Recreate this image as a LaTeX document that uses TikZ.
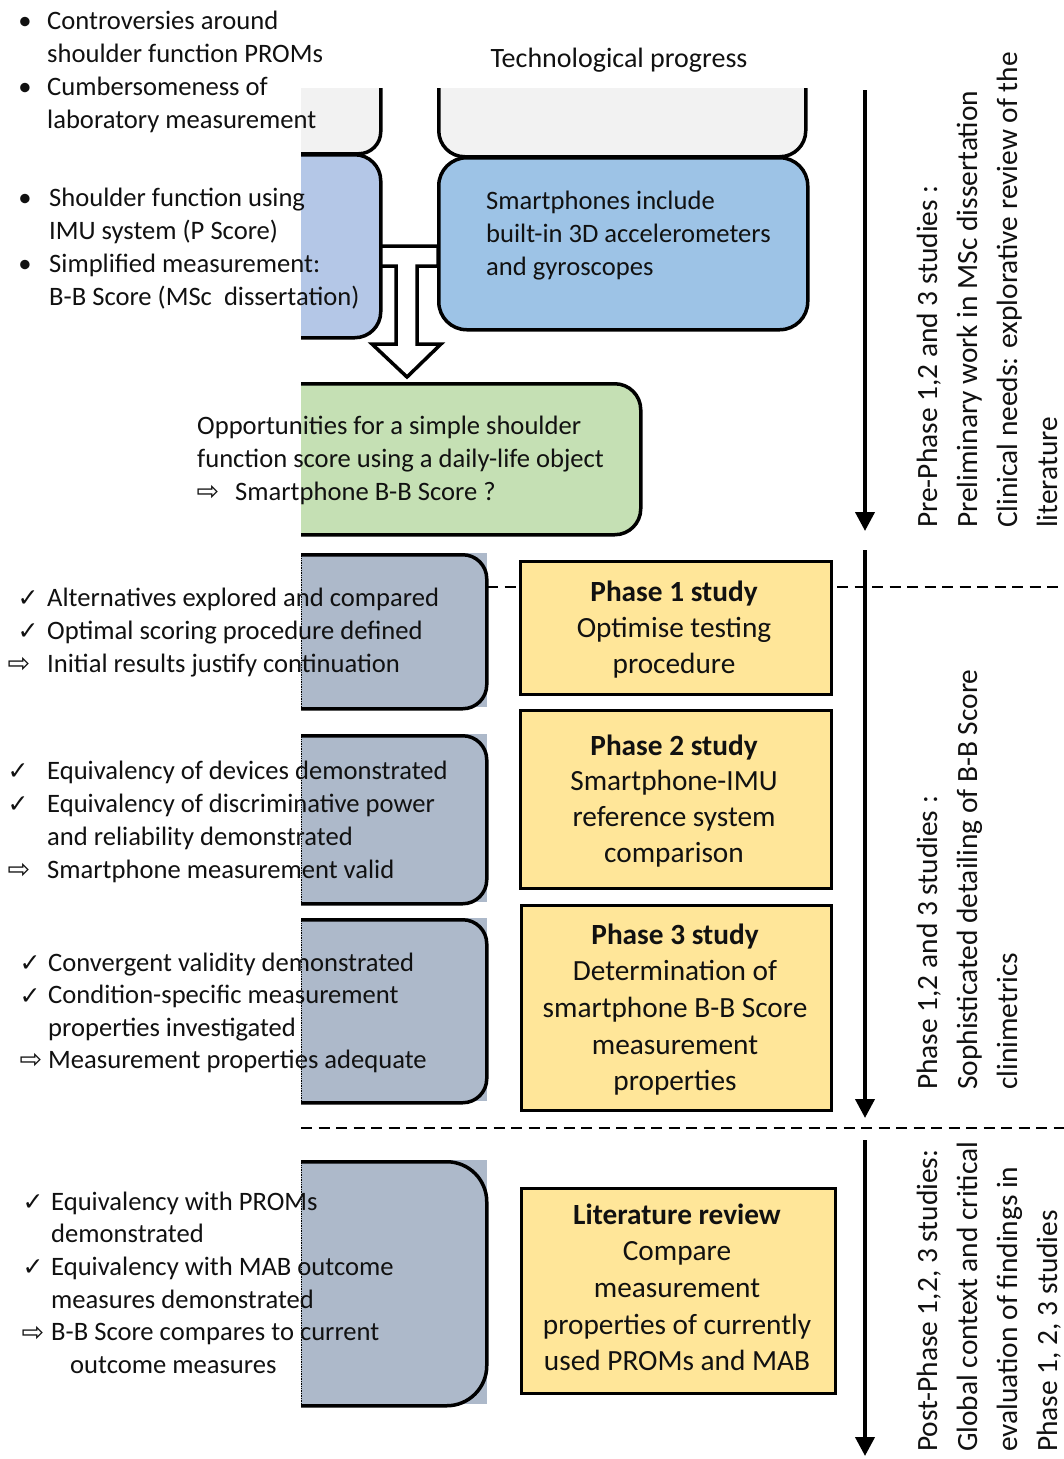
\documentclass[tikz,border=0pt]{standalone}
\usepackage{fontspec}
\setmainfont{Carlito}
\newfontfamily\symfont{DejaVu Sans}
\usetikzlibrary{arrows.meta}

\definecolor{greyfill}{HTML}{F2F2F2}
\definecolor{paleblue}{HTML}{B4C7E7}
\definecolor{skyblue}{HTML}{9DC3E6}
\definecolor{palegreen}{HTML}{C5E0B4}
\definecolor{slatefill}{HTML}{ADB9CA}
\definecolor{phaseyellow}{HTML}{FFE699}
\definecolor{ink}{HTML}{111111}

% rows of text: style, name, x, first baseline, step, {rows}
\newcommand\textrows[6]{%
  \foreach \rowtext [count=\k] in {#6}{%
    \node[#1] (#2-\k) at (#3,{#4+(\k-1)*#5}) {\rowtext};}}

\begin{document}
\begin{tikzpicture}[x=1pt, y=-1pt,
  body/.style={font=\fontsize{26.6}{33}\selectfont, text=ink, inner sep=0pt, anchor=base west},
  bodyc/.style={body, anchor=base},
  phasetext/.style={font=\fontsize{29.3}{36}\selectfont, text=ink, inner sep=0pt, anchor=base},
  sidetext/.style={font=\fontsize{29.4}{40}\selectfont, text=ink, inner sep=0pt, rotate=90, anchor=base west},
  tick/.style={font=\symfont\fontsize{25}{28}\selectfont, text=ink, inner sep=0pt, anchor=base},
  hollowarrow/.style={font=\symfont\fontsize{27}{30}\selectfont, text=ink, inner sep=0pt, anchor=base},
  roundbox/.style={draw=black, line width=3.5pt, rounded corners=#1, rectangle, inner sep=0pt, anchor=north west},
  roundbox/.default=24pt,
  phasebox/.style={draw=black, line width=3pt, fill=phaseyellow, rectangle, inner sep=0pt, anchor=north west},
  blockarrow/.style={draw=black, line width=3.5pt, fill=white, line join=miter},
  dashline/.style={draw=black, line width=2.2pt, dash pattern=on 11pt off 6.5pt},
  timearrow/.style={draw=black, line width=4pt, -{Triangle[width=19pt,length=19pt]}},
  edgedots/.style={draw=black, line width=0.7pt, densely dotted},
]
\useasboundingbox (0,0) rectangle (1064,1459);
\fill[white] (0,0) rectangle (1064,1459);

% ---------- boxes, cut off along the left and top edges ----------
\begin{scope}
  \clip (301,88) rectangle (1064,1459);
  % block arrow joining the two upper boxes and pointing down
  \draw[blockarrow] (379,246) -- (438,246) -- (438,266) -- (417,266) -- (417,344)
     -- (441,344) -- (407,377) -- (372,344) -- (396,344) -- (396,266) -- (379,266);
  \node[roundbox=22pt, fill=greyfill, minimum width=179pt, minimum height=132pt] (greyL) at (200,20) {};
  \node[roundbox=26pt, fill=greyfill, minimum width=367pt, minimum height=135pt] (greyR) at (437,20) {};
  \node[roundbox=26pt, fill=paleblue, minimum width=179pt, minimum height=183pt] (blueL) at (200,153) {};
  \node[roundbox=28pt, fill=skyblue, minimum width=369pt, minimum height=172pt] (blueR) at (437,156) {};
  \node[roundbox=26pt, fill=palegreen, minimum width=439pt, minimum height=151pt] (green) at (200,382) {};

  % outcome boxes
  \fill[slatefill] (301,553) rectangle (487,707);
  \fill[slatefill] (301,734) rectangle (487,902);
  \fill[slatefill] (301,918) rectangle (487,1101);
  \fill[slatefill] (301,1160) rectangle (487,1404);
  \node[roundbox=24pt, minimum width=235pt, minimum height=154pt] (outA) at (250,553) {};
  \node[roundbox=24pt, minimum width=235pt, minimum height=168pt] (outB) at (250,734) {};
  \node[roundbox=24pt, minimum width=235pt, minimum height=183pt] (outC) at (250,918) {};
  \node[roundbox=40pt, minimum width=235pt, minimum height=244pt] (outD) at (250,1160) {};
  \draw[edgedots] (301.6,553) -- (301.6,707);
  \draw[edgedots] (301.6,734) -- (301.6,902);
  \draw[edgedots] (301.6,918) -- (301.6,1101);
  \draw[edgedots] (301.6,1160) -- (301.6,1404);

  % phase separators
  \coordinate (sepA) at (487,587);
  \coordinate (sepAend) at (1064,587);
  \coordinate (sepB) at (301,1128);
  \coordinate (sepBend) at (1064,1128);
  \draw[dashline] (sepA) -- (sepAend);
  \draw[dashline] (sepB) -- (sepBend);
\end{scope}

% study boxes
\node[phasebox, minimum width=311pt, minimum height=133pt] (p1) at (518.5,560) {};
\node[phasebox, minimum width=311pt, minimum height=178pt] (p2) at (518.5,709) {};
\node[phasebox, minimum width=310pt, minimum height=205pt] (p3) at (519.5,904) {};
\node[phasebox, minimum width=314pt, minimum height=205pt] (lit) at (519.5,1187) {};

% time arrows
\coordinate (t1s) at (865,90);   \coordinate (t1e) at (865,531);
\coordinate (t2s) at (865,550);  \coordinate (t2e) at (865,1118);
\coordinate (t3s) at (865,1140); \coordinate (t3e) at (865,1456);
\draw[timearrow] (t1s) -- (t1e);
\draw[timearrow] (t2s) -- (t2e);
\draw[timearrow] (t3s) -- (t3e);

% ---------- texts ----------
\node[bodyc, font=\fontsize{28}{33}\selectfont] (tech) at (619,67) {Technological progress};

\node[bodyc] (bul1) at (25,29) {•};
\node[bodyc] (bul2) at (25,95) {•};
\textrows{body}{tl}{47}{29}{33}{{Controversies around},{shoulder function PROMs},{Cumbersomeness of},{laboratory measurement}}

\node[bodyc] (bul3) at (25,206) {•};
\node[bodyc] (bul4) at (25,272) {•};
\textrows{body}{ml}{49}{206}{33}{{Shoulder function using},{IMU system (P Score)},{Simplified measurement:},{B-B Score (MSc~ dissertation)}}

\textrows{body}{sp}{486}{209}{33}{{Smartphones include},{built-in 3D accelerometers},{and gyroscopes}}

\textrows{body}{op}{197}{434}{33}{{Opportunities for a simple shoulder},{function score using a daily-life object}}
\node[hollowarrow] (op-arr) at (208,500) {⇨};
\node[body] (op-3) at (235,500) {Smartphone B-B Score ?};

% outcomes of phase 1
\textrows{body}{ga}{47}{606}{33}{{Alternatives explored and compared},{Optimal scoring procedure defined},{Initial results justify continuation}}
\node[tick] (ga-c1) at (28,606) {✓};
\node[tick] (ga-c2) at (28,639) {✓};
\node[hollowarrow] (ga-a) at (19,672) {⇨};

% outcomes of phase 2
\textrows{body}{gb}{47}{779}{33}{{Equivalency of devices demonstrated},{Equivalency of discriminative power},{and reliability demonstrated},{Smartphone measurement valid}}
\node[tick] (gb-c1) at (18,779) {✓};
\node[tick] (gb-c2) at (18,812) {✓};
\node[hollowarrow] (gb-a) at (19,878) {⇨};

% outcomes of phase 3
\textrows{body}{gc}{48}{971}{32.5}{{Convergent validity demonstrated},{Condition-specific measurement},{properties investigated},{Measurement properties adequate}}
\node[tick] (gc-c1) at (30,971) {✓};
\node[tick] (gc-c2) at (30,1004) {✓};
\node[hollowarrow] (gc-a) at (31,1068) {⇨};

% outcomes of the review
\textrows{body}{gd}{51}{1210}{32.7}{{Equivalency with PROMs},{demonstrated},{Equivalency with MAB outcome},{measures demonstrated},{B-B Score compares to current}}
\node[body] (gd-6) at (70,1373) {outcome measures};
\node[tick] (gd-c1) at (33,1210) {✓};
\node[tick] (gd-c2) at (33,1275) {✓};
\node[hollowarrow] (gd-a) at (33,1341) {⇨};

% study box texts
\textrows{phasetext}{p1t}{674}{601}{36}{{\bfseries Phase 1 study},{Optimise testing},{procedure}}
\textrows{phasetext}{p2t}{674}{755}{35.7}{{\bfseries Phase 2 study},{Smartphone-IMU},{reference system},{comparison}}
\textrows{phasetext}{p3t}{675}{944}{36.7}{{\bfseries Phase 3 study},{Determination of},{smartphone B-B Score},{measurement},{properties}}
\textrows{phasetext}{lt}{677}{1224}{36.7}{{\bfseries Literature review},{Compare},{measurement},{properties of currently},{used PROMs and MAB}}

% stage descriptions
\node[sidetext] (pre-1) at (937,528) {Pre-Phase 1,2 and 3 studies :};
\node[sidetext] (pre-2) at (977,528) {Preliminary work in MSc dissertation};
\node[sidetext] (pre-3) at (1017,528) {Clinical needs: explorative review of the};
\node[sidetext] (pre-4) at (1057,528) {literature};
\node[sidetext] (mid-1) at (937,1090) {Phase 1,2 and 3 studies :};
\node[sidetext] (mid-2) at (977,1090) {Sophisticated detailing of B-B Score};
\node[sidetext] (mid-3) at (1017,1090) {clinimetrics};
\node[sidetext] (post-1) at (937,1452) {Post-Phase 1,2, 3 studies:};
\node[sidetext] (post-2) at (977,1452) {Global context and critical};
\node[sidetext] (post-3) at (1017,1452) {evaluation of findings in};
\node[sidetext] (post-4) at (1057,1452) {Phase 1, 2, 3 studies};
\end{tikzpicture}
\end{document}
